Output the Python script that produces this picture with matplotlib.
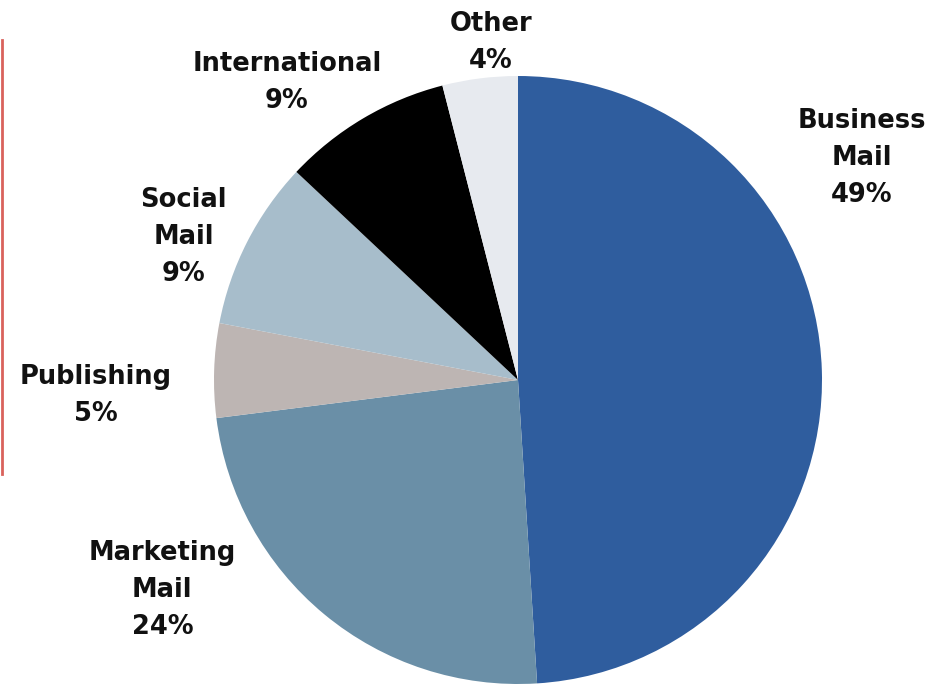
import numpy as np
import matplotlib.pyplot as plt
from matplotlib.lines import Line2D

categories = ["Business\nMail", "Marketing\nMail", "Publishing", "Social\nMail", "International", "Other"]
shares = [49, 24, 5, 9, 9, 4]
colors = ["#2F5D9E", "#6A8FA7", "#BDB5B3", "#A7BDCB", "#000000", "#E7EAEF"]
# label offsets from pie centre, in units of radius (x right, y up)
label_pos = [(1.13, 0.73), (-1.17, -0.69), (-1.39, -0.05), (-1.10, 0.47), (-0.76, 0.98), (-0.09, 1.11)]

W, H = 935, 684
fig = plt.figure(figsize=(W / 100, H / 100), dpi=100)
ax = fig.add_axes([0, 0, 1, 1])

cx, cy, r = 518, H - 380, 304
ax.pie(shares, colors=colors, startangle=90, counterclock=False,
       center=(cx, cy), radius=r, frame=True,
       wedgeprops=dict(linewidth=0))
ax.set_xlim(0, W)
ax.set_ylim(0, H)
ax.set_aspect("equal")
ax.axis("off")

for name, val, (dx, dy) in zip(categories, shares, label_pos):
    ax.text(cx + dx * r, cy + dy * r, f"{name}\n{val}%", ha="center", va="center",
            fontsize=18.5, fontweight="bold", color="#111111",
            family="DejaVu Sans", linespacing=1.55)

# red frame edge on the left
fig.add_artist(Line2D([1.5 / W, 1.5 / W], [1 - 40 / H, 1 - 474 / H],
                      transform=fig.transFigure, color="#D9625C", linewidth=2))

fig.savefig("out.png", dpi=100)
